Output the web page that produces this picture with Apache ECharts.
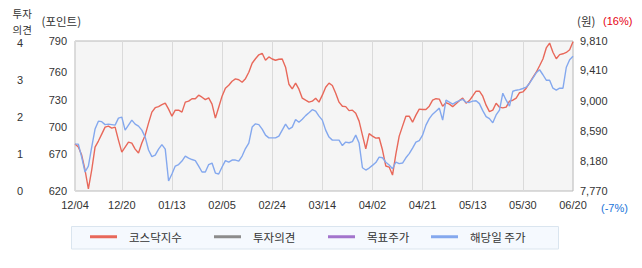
<!DOCTYPE html>
<html><head><meta charset="utf-8">
<script src="https://cdn.jsdelivr.net/npm/echarts@6/dist/echarts.min.js"></script>
<style>html,body{margin:0;padding:0;background:#fff}#c{width:642px;height:268px}</style>
</head><body><div id="c"></div>
<script>
const dates = ['12/04','12/05','12/06','12/07','12/08','12/09','12/10','12/11','12/12','12/13','12/14','12/16','12/17','12/18','12/20',
'12/21','12/23','12/24','12/26','12/27','12/28','12/30','01/02','01/03','01/06','01/07','01/08','01/09','01/10','01/13',
'01/14','01/15','01/16','01/17','01/20','01/21','01/22','01/23','01/24','01/27','01/28','01/31','02/03','02/04','02/05',
'02/06','02/07','02/08','02/10','02/11','02/12','02/13','02/14','02/16','02/17','02/18','02/19','02/20','02/21','02/24',
'02/25','02/26','02/27','02/28','03/01','03/03','03/04','03/05','03/06','03/07','03/08','03/10','03/11','03/12','03/14',
'03/15','03/17','03/18','03/19','03/20','03/21','03/22','03/24','03/25','03/26','03/27','03/28','03/31','04/01','04/02',
'04/03','04/04','04/05','04/07','04/08','04/09','04/10','04/11','04/12','04/14','04/15','04/16','04/17','04/18','04/21',
'04/22','04/23','04/24','04/25','04/28','04/29','04/30','05/01','05/02','05/06','05/07','05/08','05/09','05/12','05/13',
'05/14','05/15','05/16','05/17','05/19','05/20','05/21','05/22','05/23','05/24','05/26','05/27','05/28','05/29','05/30',
'05/31','06/02','06/03','06/04','06/05','06/09','06/10','06/11','06/12','06/13','06/16','06/17','06/18','06/19','06/20'];

const kosdaq = [673.2,669.8,660.7,643.8,622.3,643.8,669.8,676.6,684.5,692.4,
693.5,691.3,692.4,677.7,664.1,669.8,675.4,674.3,667.5,663.0,
674.3,683.3,696.9,709.4,714.4,715.6,717.8,719.5,712.8,704.8,
711.6,711.6,709.4,720.7,721.8,724.6,724.6,728.6,726.3,723.5,
725.5,718.4,702.6,715.0,727.5,736.5,739.9,744.4,747.0,746.1,
743.3,747.3,754.6,764.8,769.9,774.4,776.1,768.2,771.9,769.6,
768.2,769.3,769.6,760.3,741.0,735.7,742.2,735.4,725.2,722.9,
720.7,721.8,725.2,720.7,728.6,737.6,742.2,739.6,730.8,720.7,
716.1,715.6,711.1,711.6,708.2,699.2,683.3,667.8,685.0,682.2,
679.9,680.3,666.4,648.3,647.1,638.1,661.9,682.2,693.5,704.8,
704.8,698.0,706.0,712.8,712.4,712.4,716.1,722.9,724.6,724.1,
716.1,720.1,718.4,715.6,719.0,722.4,725.2,719.5,722.4,727.7,
733.1,733.1,727.5,717.3,709.9,711.6,719.5,715.0,714.2,715.0,
721.8,722.9,725.2,731.4,732.3,736.5,742.5,748.9,754.6,762.0,
769.6,782.1,787.7,777.2,769.9,774.6,775.5,777.0,780.0,789.1];

const price = [8408,8408,8231,8028,8109,8367,8612,8720,8713,8673,
8679,8673,8666,8761,8774,8598,8666,8734,8679,8652,
8598,8503,8327,8238,8259,8340,8401,8340,7906,8001,
8109,8130,8177,8245,8218,8198,8184,8109,8028,8028,
8130,8150,8014,8001,8096,8184,8164,8191,8191,8177,
8245,8347,8422,8639,8683,8673,8612,8530,8493,8493,
8493,8517,8598,8679,8612,8639,8743,8706,8747,8795,
8835,8876,8856,8788,8734,8598,8503,8462,8462,8462,
8388,8435,8426,8442,8530,8422,8086,8055,8082,8119,
8157,8231,8222,8161,8123,8073,8164,8143,8150,8222,
8279,8354,8435,8455,8530,8666,8754,8815,8856,8897,
8734,9005,8978,8951,8978,8998,9016,8978,8974,8992,
8997,8958,8863,8781,8754,8697,8804,8869,9100,9005,
8924,9127,9141,9148,9164,9182,9236,9304,9378,9419,
9351,9277,9277,9168,9141,9168,9168,9453,9555,9602];

const opinion = [];
const target = [];

const xTickLabels = ['12/04','12/20','01/13','02/05','02/24','03/14','04/02','04/21','05/13','05/30','06/20'];
const opinionTicks = [0,1,2,3,4];
const kosdaqTickLabels = ['620','670','700','730','760','790'];
const priceTicks = [7770,8180,8590,9000,9410,9810];

const kosdaqTickPos = [620,662.2,692.4,722.6,754.6,790];

const LBL = {color:'#333', fontSize:11, fontFamily:'"Liberation Sans", Arial, sans-serif'};
const KFONT = '"Noto Sans CJK KR", "Noto Sans", sans-serif';
const showTick = (i, v) => xTickLabels.indexOf(v) >= 0;

const chart = echarts.init(document.getElementById('c'), null, {renderer:'svg'});

function legendItem(name, left) {
  return {
    data:[name], left:left, top:231, padding:0, itemWidth:27, itemHeight:3, icon:'rect',
    selectedMode:false, z:5,
    textStyle:{color:'#333', fontSize:11.5, fontFamily:KFONT, padding:[0,0,0,7]}
  };
}

chart.setOption({
  animation:false,
  grid:{left:75, right:69, top:41, bottom:77, show:true, backgroundColor:'#f5f5f5', borderColor:'#b9b9b9', borderWidth:1},
  legend:[legendItem('코스닥지수',90), legendItem('투자의견',214), legendItem('목표주가',328), legendItem('해당일 주가',431)],
  xAxis:{type:'category', data:dates, boundaryGap:false,
    axisLine:{show:false}, axisTick:{show:false},
    axisLabel:Object.assign({interval:showTick, margin:8}, LBL),
    splitLine:{show:true, interval:showTick, lineStyle:{color:'#dadada', width:1}}},
  yAxis:[
    {type:'value', position:'left', offset:44, min:0, max:4.062,
     axisLine:{show:false}, axisTick:{show:false}, splitLine:{show:false},
     axisLabel:Object.assign({customValues:opinionTicks, margin:8, formatter:v=>String(v)}, LBL)},
    {type:'value', position:'left', min:620, max:790,
     axisLine:{show:false}, axisTick:{show:false}, splitLine:{show:false},
     axisLabel:Object.assign({customValues:kosdaqTickPos, margin:8, formatter:v=>{
        let k=0, d=1e9; kosdaqTickPos.forEach((p,j)=>{if(Math.abs(p-v)<d){d=Math.abs(p-v);k=j;}});
        return kosdaqTickLabels[k];}}, LBL)},
    {type:'value', position:'right', min:7770, max:9810,
     axisLine:{show:false}, axisTick:{show:false}, splitLine:{show:false},
     axisLabel:Object.assign({customValues:priceTicks, margin:7, formatter:v=>v.toLocaleString('en-US')}, LBL)}
  ],
  series:[
    {name:'코스닥지수', type:'line', yAxisIndex:1, data:kosdaq, showSymbol:false, color:'#e8685a', lineStyle:{width:1.4, color:'#e8685a'}},
    {name:'투자의견', type:'line', yAxisIndex:0, data:opinion, showSymbol:false, color:'#8c8c8c', lineStyle:{width:1.4}},
    {name:'목표주가', type:'line', yAxisIndex:2, data:target, showSymbol:false, color:'#a374cc', lineStyle:{width:1.4}},
    {name:'해당일 주가', type:'line', yAxisIndex:2, data:price, showSymbol:false, color:'#84a8ee', lineStyle:{width:1.4, color:'#84a8ee'}}
  ],
  graphic:[
    {type:'rect', z:0, shape:{x:71.5, y:226.5, width:487, height:22.5}, style:{fill:'#f5f9fe', stroke:'#dae5ef', lineWidth:1}},
    {type:'text', z:10, x:12.5, y:6, style:{text:'투자\n의견', font:'10.5px '+KFONT, lineHeight:15.5, fill:'#333', verticalAlign:'top'}},
    {type:'text', z:10, x:41.5, y:21, style:{text:'(포인트)', font:'11.5px '+KFONT, fill:'#333', verticalAlign:'middle'}},
    {type:'text', z:10, x:577, y:21, style:{text:'(원)', font:'11.5px '+KFONT, fill:'#333', verticalAlign:'middle'}},
    {type:'text', z:10, x:603, y:21, style:{text:'(16%)', font:'11px "Liberation Sans", Arial, sans-serif', fill:'#e60012', verticalAlign:'middle'}},
    {type:'text', z:10, x:601, y:208, style:{text:'(-7%)', font:'11px "Liberation Sans", Arial, sans-serif', fill:'#1a73d9', verticalAlign:'middle'}}
  ]
});
</script></body></html>
